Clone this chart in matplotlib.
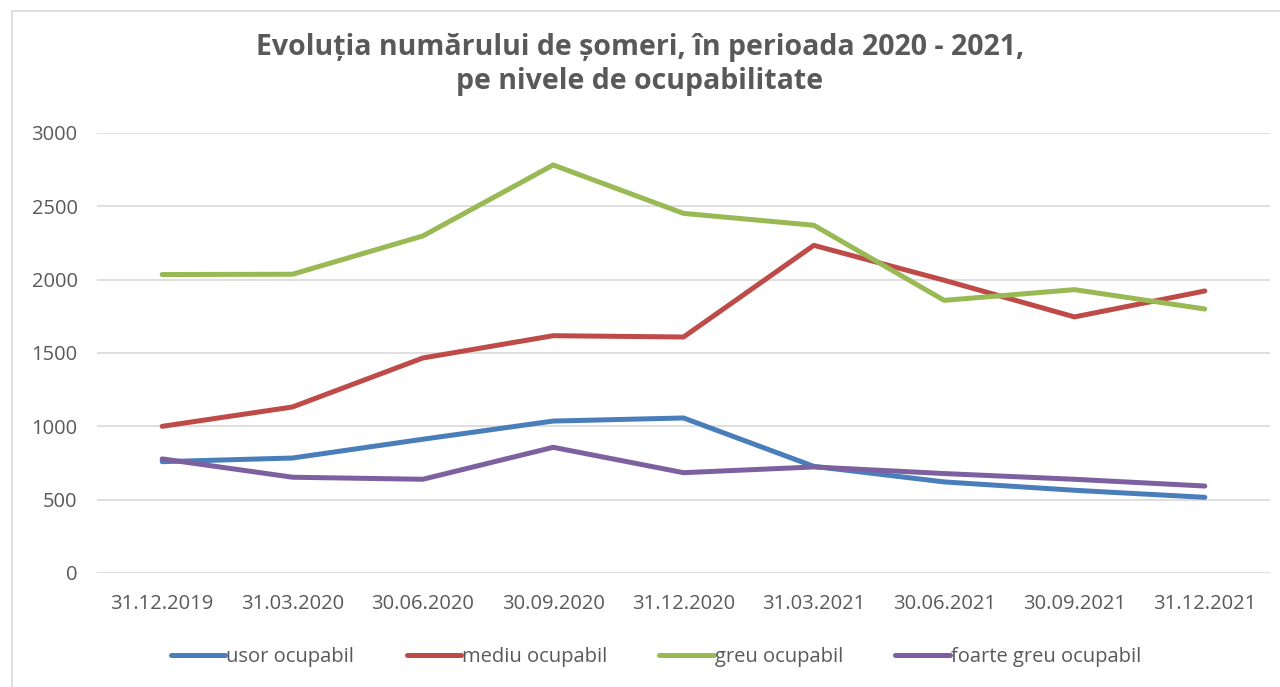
import matplotlib.pyplot as plt
from matplotlib.patches import Rectangle

dates = ["31.12.2019", "31.03.2020", "30.06.2020", "30.09.2020", "31.12.2020",
         "31.03.2021", "30.06.2021", "30.09.2021", "31.12.2021"]
usor = [759, 784, 912, 1036, 1057, 727, 621, 564, 516]
mediu = [1000, 1132, 1466, 1618, 1609, 2234, 1996, 1746, 1923]
greu = [2035, 2037, 2298, 2782, 2452, 2371, 1859, 1932, 1800]
foarte_greu = [778, 653, 639, 857, 684, 723, 678, 639, 593]

series = [("usor ocupabil", usor, "#4A7EBB"),
          ("mediu ocupabil", mediu, "#BE4B48"),
          ("greu ocupabil", greu, "#98B954"),
          ("foarte greu ocupabil", foarte_greu, "#7D60A0")]

plt.rcParams["font.family"] = ["Open Sans", "DejaVu Sans"]
gray = "#595959"

fig = plt.figure(figsize=(12.8, 6.87), dpi=100)
fig.patches.append(Rectangle((12 / 1280, -0.05), 1.1, 1 - 11 / 687 + 0.05,
                             transform=fig.transFigure, fill=False,
                             edgecolor="#D9D9D9", linewidth=1.2))

ax = fig.add_axes([97 / 1280, 1 - 573 / 687, (1270 - 97) / 1280, 440 / 687])
x = range(len(dates))
for name, vals, col in series:
    ax.plot(x, vals, color=col, linewidth=3.6, solid_capstyle="round",
            solid_joinstyle="round", label=name)

ax.set_xlim(-0.5, len(dates) - 0.5)
ax.set_ylim(0, 3000)
ax.set_yticks(range(0, 3001, 500))
ax.set_xticks(list(x))
ax.set_xticklabels(dates)
ax.grid(axis="y", color="#D9D9D9", linewidth=1.2)
ax.set_axisbelow(True)
for s in ax.spines.values():
    s.set_visible(False)
ax.tick_params(length=0, labelsize=14.5, labelcolor=gray)
ax.tick_params(axis="x", pad=15)
ax.tick_params(axis="y", pad=14)

fig.text(0.5, 1 - 48 / 687, "Evoluția numărului de șomeri, în perioada 2020 - 2021,",
         ha="center", va="center", fontsize=20.5, fontweight="bold", color=gray)
fig.text(0.5, 1 - 82 / 687, "pe nivele de ocupabilitate",
         ha="center", va="center", fontsize=20.5, fontweight="bold", color=gray)

fig.legend(loc="center", bbox_to_anchor=(656 / 1280, 1 - 657 / 687), ncol=4,
           frameon=False, fontsize=14.5, labelcolor=gray, handlelength=2.7,
           handletextpad=0.05, columnspacing=2.6)

fig.savefig("out.png", dpi=100)
